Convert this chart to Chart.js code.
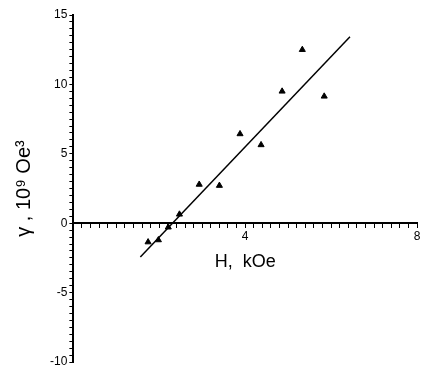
<!DOCTYPE html>
<html>
<head>
<meta charset="utf-8">
<script src="https://cdn.jsdelivr.net/npm/chart.js@4"></script>
<style>
  html, body { margin: 0; padding: 0; background: #fff; }
  #wrap { width: 423px; height: 367px; }
</style>
</head>
<body>
<div id="wrap"><canvas id="myChart"></canvas></div>
<script>
// measured points, H in kOe, gamma in 10^9 Oe^3
const hValues = [1.74, 1.98, 2.21, 2.47, 2.93, 3.40, 3.88, 4.37, 4.86, 5.33, 5.84];
const gammaValues = [-1.36, -1.21, -0.29, 0.64, 2.79, 2.71, 6.43, 5.64, 9.5, 12.5, 9.14];

// fitted straight line (two ends)
const fitH = [1.56, 6.44];
const fitGamma = [-2.43, 13.43];

const xLabels = [4, 8];
const yLabels = [-10, -5, 0, 5, 10, 15];

const points = hValues.map((h, i) => ({ x: h, y: gammaValues[i] }));
const fit = fitH.map((h, i) => ({ x: h, y: fitGamma[i] }));

const tickFont = { family: "'Liberation Sans', Arial, sans-serif", size: 12 };

new Chart("myChart", {
    type: "scatter",
    data: {
        datasets: [
            {
                data: points,
                pointStyle: "triangle",
                pointRadius: 3.5,
                backgroundColor: "#000",
                borderColor: "#000",
                borderWidth: 1
            },
            {
                data: fit,
                showLine: true,
                pointRadius: 0,
                borderColor: "#000",
                borderWidth: 1.5,
                fill: false
            }
        ]
    },
    options: {
        animation: false,
        responsive: true,
        maintainAspectRatio: false,
        layout: { padding: { left: 8, right: 6, top: 15, bottom: 5 } },
        plugins: { legend: { display: false }, tooltip: { enabled: false } },
        scales: {
            x: {
                type: "linear",
                position: { y: 0 },
                min: 0,
                max: 8,
                border: { color: "#000", width: 2 },
                grid: { drawOnChartArea: false, drawTicks: true, tickLength: 4, color: "#000", tickWidth: 1 },
                ticks: {
                    stepSize: 0.2,
                    autoSkip: false,
                    maxRotation: 0,
                    color: "#000",
                    font: tickFont,
                    padding: 2,
                    callback: v => xLabels.includes(Math.round(v * 10) / 10) ? String(Math.round(v)) : ""
                },
                title: {
                    display: true,
                    text: "H,  kOe",
                    color: "#000",
                    font: { family: "'Liberation Sans', Arial, sans-serif", size: 18 },
                    padding: { top: 6 }
                }
            },
            y: {
                type: "linear",
                min: -10,
                max: 15,
                border: { color: "#000", width: 2 },
                grid: { drawOnChartArea: false, drawTicks: true, tickLength: 4, color: "#000", tickWidth: 1 },
                ticks: {
                    stepSize: 0.5,
                    autoSkip: false,
                    color: "#000",
                    font: { family: "'Liberation Sans', Arial, sans-serif", size: 12, lineHeight: 0.5 },
                    padding: 2,
                    callback: v => yLabels.includes(Math.round(v * 10) / 10) ? String(Math.round(v)) : ""
                },
                title: {
                    display: true,
                    text: "\u03B3 , 10\u2079 Oe\u00B3",
                    color: "#000",
                    font: { family: "'Liberation Sans', Arial, sans-serif", size: 20 },
                    padding: { bottom: 12 }
                }
            }
        }
    }
});
</script>
</body>
</html>
